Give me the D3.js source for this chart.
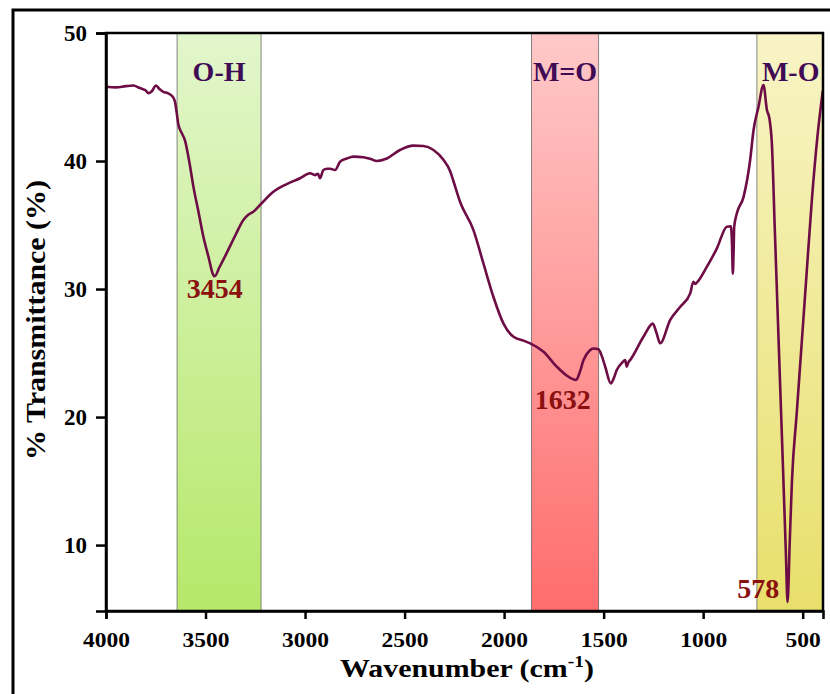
<!DOCTYPE html>
<html><head><meta charset="utf-8">
<script src="https://cdn.jsdelivr.net/npm/d3@7"></script>
<style>body{margin:0;background:#fff}svg{display:block}</style>
</head><body>
<svg id="chart" width="830" height="694"></svg>
<script>
const wavenumber = [4000,3950,3900,3863,3830,3800,3787,3770,3749,3730,3712,3690,3670,3660,3653,3645,3637,3620,3603,3580,3561,3535,3511,3485,3461,3454,3430,3394,3350,3310,3285,3260,3218,3159,3092,3025,2975,2950,2935,2925,2908,2890,2874,2849,2824,2790,2757,2707,2670,2640,2589,2523,2456,2405,2355,2305,2271,2254,2221,2154,2104,2054,2003,1953,1900,1869,1802,1735,1677,1638,1620,1601,1570,1551,1526,1510,1492,1464,1450,1434,1410,1392,1384,1375,1367,1300,1253,1235,1216,1166,1116,1065,1049,1040,1032,981,931,881,861,855,851,847,844,831,797,764,747,722,697,680,667,655,640,620,600,585,576,565,554,530,504,480,454,426,399];
const transmittance = [45.8,45.75,45.85,45.9,45.7,45.5,45.3,45.45,45.9,45.6,45.4,45.3,45.1,44.9,44.6,43.8,42.9,42.2,41.6,39.8,38.0,36.0,34.1,32.5,31.1,31.0,31.7,32.8,34.2,35.4,35.8,36.04,36.7,37.6,38.2,38.65,39.04,38.9,39.0,38.65,39.3,39.4,39.4,39.3,39.95,40.2,40.34,40.3,40.15,40.0,40.2,40.86,41.2,41.17,40.86,40.1,39.2,38.4,36.8,34.6,32.0,29.4,27.3,26.27,25.95,25.76,25.1,23.93,23.15,22.9,23.5,24.45,25.2,25.36,25.3,24.8,23.93,22.63,23.0,23.67,24.2,24.45,23.93,24.3,24.45,26.27,27.3,26.6,25.76,27.58,28.6,29.66,30.57,30.4,30.5,31.75,33.18,34.87,34.9,33.5,31.2,33.0,34.87,35.9,37.2,40.08,42.4,44.24,45.94,44.0,43.3,41.4,34.6,25.5,16.5,9.6,5.55,10.3,15.0,20.3,26.0,31.3,36.95,41.9,45.5];

const xTicks = [4000,3500,3000,2500,2000,1500,1000,500];
const yTicks = [10,20,30,40,50];

const bandNames = ["O-H","M=O","M-O"];
const bandFrom = [3643,1863,730];
const bandTo = [3221,1525,398];
const bandTop = ["#e2f6cc","#ffc9c9","#f8f4c6"];
const bandBottom = ["#b6e86a","#ff6d6d","#e8df6b"];

const peakLabels = ["3454","1632","578"];
const peakLabelX = [3454,1705,578];
const peakLabelY = [29.3,20.6,5.85];

const xTitle = "Wavenumber (cm";
const xTitleSup = "-1";
const yTitle = "% Transmittance (%)";

const L=106, R=823, T=33, B=611;
const x = d3.scaleLinear().domain([4000,398]).range([L,R]);
const y = d3.scaleLinear().domain([4.85,50]).range([B,T]);

const svg = d3.select("#chart");
const font = "'Liberation Serif','Times New Roman',serif";

// outer frame
svg.append("rect").attr("x",13).attr("y",10).attr("width",830).attr("height",700)
  .attr("fill","none").attr("stroke","#000").attr("stroke-width",3);

const defs = svg.append("defs");
defs.append("clipPath").attr("id","clip").append("rect")
  .attr("x",L).attr("y",T).attr("width",R-L).attr("height",B-T);

bandNames.forEach((n,i)=>{
  const g = defs.append("linearGradient").attr("id","grad"+i)
    .attr("x1",0).attr("y1",0).attr("x2",0).attr("y2",1);
  g.append("stop").attr("offset","0%").attr("stop-color",bandTop[i]);
  g.append("stop").attr("offset","100%").attr("stop-color",bandBottom[i]);
});

svg.append("g").selectAll("rect").data(bandNames).join("rect")
  .attr("x",(d,i)=>x(bandFrom[i]))
  .attr("width",(d,i)=>x(bandTo[i])-x(bandFrom[i]))
  .attr("y",T).attr("height",B-T)
  .attr("fill",(d,i)=>`url(#grad${i})`)
  .attr("stroke","#6a6a6a").attr("stroke-width",0.8);

// band titles
svg.append("g").selectAll("text").data(bandNames).join("text")
  .attr("x",(d,i)=>i===2 ? x(bandFrom[i])+5 : (x(bandFrom[i])+x(bandTo[i]))/2)
  .attr("y",81)
  .attr("text-anchor",(d,i)=>i===2?"start":"middle")
  .attr("font-family",font).attr("font-weight","bold").attr("font-size",28)
  .attr("fill","#3f0b55").text(d=>d);

// curve
const pts = wavenumber.map((w,i)=>[w,transmittance[i]]);
svg.append("path").datum(pts)
  .attr("clip-path","url(#clip)")
  .attr("fill","none").attr("stroke","#6e0c45").attr("stroke-width",2.6)
  .attr("stroke-linejoin","round")
  .attr("d",d3.line().x(d=>x(d[0])).y(d=>y(d[1])).curve(d3.curveMonotoneX));

// peak labels
svg.append("g").selectAll("text").data(peakLabels).join("text")
  .attr("x",(d,i)=> i===2 ? x(peakLabelX[i])-8 : x(peakLabelX[i]))
  .attr("y",(d,i)=>y(peakLabelY[i]))
  .attr("text-anchor",(d,i)=>i===2?"end":"middle")
  .attr("font-family",font).attr("font-weight","bold").attr("font-size",28)
  .attr("fill","#8b1010").text(d=>d);

// plot box
svg.append("rect").attr("x",L).attr("y",T).attr("width",R-L).attr("height",B-T)
  .attr("fill","none").attr("stroke","#000").attr("stroke-width",2.5);

// axes
const xAxis = svg.append("g").attr("transform",`translate(0,${B})`)
  .call(d3.axisBottom(x).tickValues(xTicks).tickSize(8).tickPadding(13).tickFormat(d3.format("d")));
const yAxis = svg.append("g").attr("transform",`translate(${L},0)`)
  .call(d3.axisLeft(y).tickValues(yTicks).tickSize(10).tickPadding(9).tickFormat(d3.format("d")));
[xAxis,yAxis].forEach(a=>{
  a.select(".domain").attr("stroke","#000").attr("stroke-width",2.5);
  a.selectAll(".tick line").attr("stroke","#000").attr("stroke-width",2.5);
  a.selectAll(".tick text").attr("font-family",font).attr("font-weight","bold")
    .attr("fill","#000");
});
xAxis.selectAll(".tick text").attr("font-size",21).attr("transform","scale(1.12,1)");
yAxis.selectAll(".tick text").attr("font-size",23);

// axis titles
const xt = svg.append("g").attr("transform","translate(467,677) scale(1.15,1)")
  .append("text").attr("x",0).attr("y",0).attr("text-anchor","middle")
  .attr("font-family",font).attr("font-weight","bold").attr("font-size",26).attr("fill","#000");
xt.append("tspan").text(xTitle);
xt.append("tspan").attr("dy",-10).attr("font-size",17).text(xTitleSup);
xt.append("tspan").attr("dy",10).text(")");

svg.append("text").attr("transform","translate(45,320) rotate(-90)")
  .attr("text-anchor","middle")
  .attr("textLength",280).attr("lengthAdjust","spacingAndGlyphs")
  .attr("font-family",font).attr("font-weight","bold").attr("font-size",28).attr("fill","#000")
  .text(yTitle);
</script>
</body></html>
